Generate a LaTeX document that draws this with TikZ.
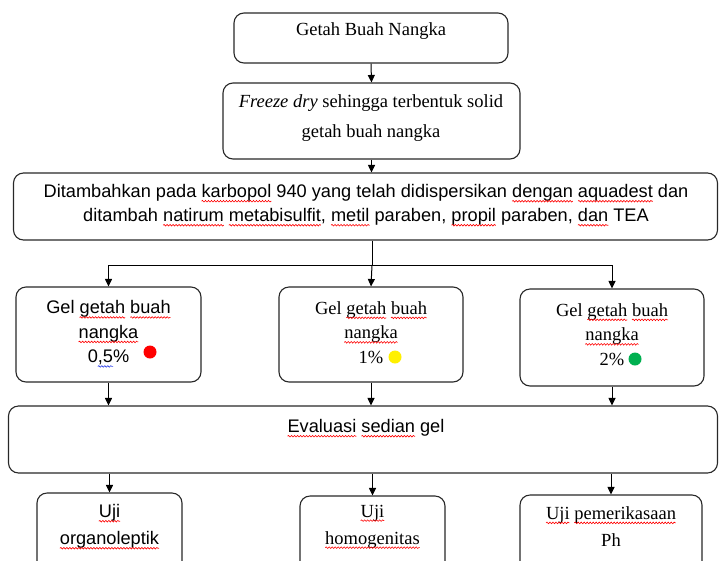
\documentclass[tikz,border=0pt]{standalone}
\usepackage{fontspec}
\setmainfont{Liberation Serif}
\setsansfont{Liberation Sans}
\usetikzlibrary{arrows.meta,decorations.pathmorphing}
\definecolor{dotred}{RGB}{255,0,0}
\definecolor{dotyellow}{RGB}{255,240,0}
\definecolor{dotgreen}{RGB}{0,176,80}
\definecolor{edge}{RGB}{40,40,40}
\definecolor{sqblue}{RGB}{40,60,230}
\tikzset{squig/.style={overlay,draw=#1,line width=0.6pt,decorate,decoration={snake,amplitude=0.8pt,segment length=3pt}}}
\newcommand\sqc[2]{\tikz[baseline=(sqw.base),x=1pt,y=1pt]{\node[inner sep=0pt,outer sep=0pt,anchor=base] (sqw) {#2};\draw[squig=#1] ([yshift=-3.5pt]sqw.base west) -- ([yshift=-3.5pt]sqw.base east);}}
\newcommand\sqr[1]{\sqc{red}{#1}}
\newcommand\sqb[1]{\sqc{sqblue}{#1}}
\begin{document}
\begin{tikzpicture}[x=1pt,y=-1pt,
  box/.style={draw=edge,line width=1.1pt,rounded corners=10pt,inner sep=0pt},
  arr/.style={draw=black,line width=1pt,-{Triangle[length=7.5pt,width=7pt]}},
  ln/.style={draw=black,line width=1pt},
  sertxt/.style={font=\fontsize{18.5}{#1}\selectfont,align=center,inner sep=0pt},
  santxt/.style={font=\sffamily\fontsize{18.2}{#1}\selectfont,align=center,inner sep=0pt},
  dot/.style={circle,fill=#1,inner sep=0pt,minimum size=13pt}
]
\useasboundingbox (0,0) rectangle (719,560);
\clip (0,0) rectangle (719,560);
\fill[white] (0,0) rectangle (719,560);

% boxes
\node[box,minimum width=274pt,minimum height=50pt] (b1) at (371,38) {};
\node[box,minimum width=297pt,minimum height=76pt] (b2) at (371.5,121) {};
\node[box,minimum width=704pt,minimum height=67pt] (b3) at (365.5,206.5) {};
\node[box,minimum width=185pt,minimum height=95pt] (b4a) at (108.5,334.5) {};
\node[box,minimum width=184pt,minimum height=95pt] (b4b) at (371,334.5) {};
\node[box,minimum width=184pt,minimum height=97pt] (b4c) at (612,337.5) {};
\node[box,minimum width=709pt,minimum height=67pt] (b5) at (363,439.5) {};
\node[box,minimum width=145pt,minimum height=87pt] (b6a) at (109.5,536.5) {};
\node[box,minimum width=145pt,minimum height=84pt] (b6b) at (372.5,538) {};
\node[box,minimum width=182pt,minimum height=85pt] (b6c) at (611,537.5) {};

% texts
\node[sertxt=30] (t1) at (371,31) {Getah Buah Nangka};
\node[sertxt=30] (t2) at (371,118) {\textit{Freeze dry} sehingga terbentuk solid\\getah buah nangka};
\node[santxt=24] (t3) at (366,205) {Ditambahkan pada \sqr{karbopol} 940 yang telah didispersikan \sqr{dengan} \sqr{aquadest} dan\\ditambah \sqr{natirum} \sqr{metabisulfit}, \sqr{metil} paraben, \sqr{propil} paraben, \sqr{dan} TEA};
\node[santxt=24.5] (t4a) at (108.5,333) {Gel \sqr{getah} \sqr{buah}\\\sqr{nangka}\\0\sqb{,5}\%};
\node[sertxt=24.5] (t4b) at (371,332.5) {Gel \sqr{getah} \sqr{buah}\\\sqr{nangka}\\1\%};
\node[sertxt=24.5] (t4c) at (612,334.5) {Gel \sqr{getah} \sqr{buah}\\\sqr{nangka}\\2\%};
\node[santxt=24] (t5) at (366,428) {\sqr{Evaluasi} \sqr{sedian} gel};
\node[santxt=27] (t6a) at (109.5,526.5) {\sqr{Uji}\\\sqr{organoleptik}};
\node[sertxt=27] (t6b) at (372.5,526.5) {\sqr{Uji}\\\sqr{homogenitas}};
\node[sertxt=27] (t6c) at (611,526.5) {\sqr{Uji} \sqr{pemerikasaan}\\Ph};

% dots
\node[dot=dotred] (d1) at (150,352) {};
\node[dot=dotyellow] (d2) at (395,357) {};
\node[dot=dotgreen] (d3) at (635,359) {};

% connectors
\draw[arr] (b1.south) -- (b2.north);
\draw[arr] (b2.south) -- (b2.south |- b3.north);
\coordinate (j) at (372,265);
\draw[ln] (b3.south -| j) -- (j);
\draw[ln] (b4a.north |- j) -- (b4c.north |- j);
\draw[arr] (b4a.north |- j) -- (b4a.north);
\draw[arr] (j) -- (b4b.north);
\draw[arr] (b4c.north |- j) -- (b4c.north);
\draw[arr] (b4a.south) -- (b4a.south |- b5.north);
\draw[arr] (b4b.south) -- (b4b.south |- b5.north);
\draw[arr] (b4c.south) -- (b4c.south |- b5.north);
\draw[arr] (b5.south -| b6a.north) -- (b6a.north);
\draw[arr] (b5.south -| b6b.north) -- (b6b.north);
\draw[arr] (b5.south -| b6c.north) -- (b6c.north);
\end{tikzpicture}
\end{document}
